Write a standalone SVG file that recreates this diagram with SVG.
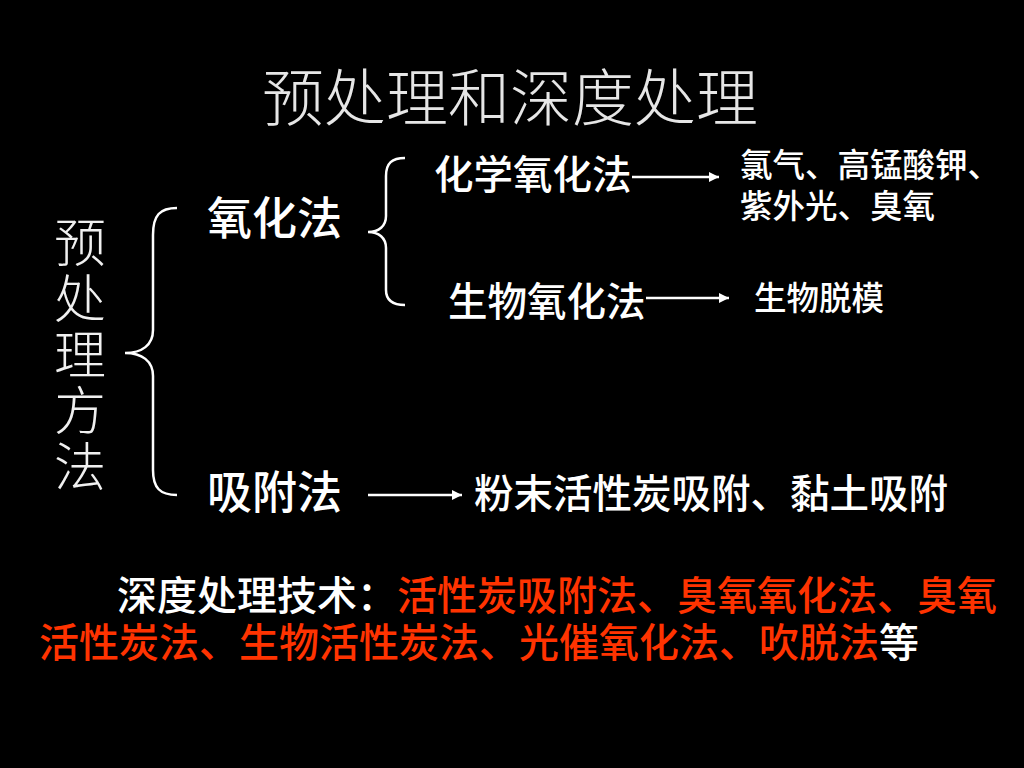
<svg xmlns="http://www.w3.org/2000/svg" width="1024" height="768" viewBox="0 0 1024 768">
<defs>
<style>
text{font-family:"Noto Sans CJK SC","Noto Sans CJK JP",sans-serif;fill:#ffffff}
.title{font-size:62px;font-weight:300;fill:#e6e6e6}
.vert{font-size:52px;font-weight:300;fill:#f0f0f0;writing-mode:vertical-rl;letter-spacing:4px}
.l1{font-size:45px;font-weight:500}
.l2{font-size:39.5px;font-weight:500}
.sm{font-family:"Liberation Sans","Noto Sans CJK SC","Noto Sans CJK JP",sans-serif;font-size:32.5px;font-weight:500}
.bt{font-family:"Liberation Sans","Noto Sans CJK SC","Noto Sans CJK JP",sans-serif;font-size:40px;font-weight:500}
.red{fill:#ff3300}
.brace{fill:none;stroke:#ffffff;stroke-width:2.5}
.conn{stroke:#ffffff;stroke-width:2.5;fill:none}
</style>
<marker id="ah" viewBox="0 0 10 10" refX="10" refY="5" markerWidth="4" markerHeight="4" markerUnits="strokeWidth" orient="auto">
<path d="M0,0 L10,5 L0,10 Z" fill="#ffffff"/>
</marker>
</defs>
<rect width="1024" height="768" fill="#000000"/>
<g id="title"><text class="title" x="262" y="121">预处理和深度处理</text></g>
<g id="root"><text class="vert" x="80" y="216">预处理方法</text></g>
<g id="braces">
<path class="brace" d="M177,208 C160,208 153,215 153,235 L153,330 C153,345 142,353 125,353 C142,353 153,361 153,376 L153,470 C153,488 160,495 177,495"/>
<path class="brace" d="M405,158 C392,158 386,163 386,176 L386,216 C386,226 379,232 368,232 C379,232 386,238 386,248 L386,290 C386,300 392,305 405,305"/>
</g>
<g id="oxidation"><text class="l1" x="207" y="235">氧化法</text></g>
<g id="adsorption"><text class="l1" x="207" y="509">吸附法</text></g>
<g id="chem-ox"><text class="l2" x="434" y="189">化学氧化法</text></g>
<g id="bio-ox"><text class="l2" x="448" y="316">生物氧化法</text></g>
<g id="chem-list">
<text class="sm"><tspan x="740" y="177">氯气、高锰酸钾、</tspan><tspan x="740" y="218">紫外光、臭氧</tspan></text>
</g>
<g id="bio-list"><text class="sm" x="754" y="310">生物脱模</text></g>
<g id="ads-list"><text class="l2" x="474" y="508">粉末活性炭吸附、黏土吸附</text></g>
<g id="connectors">
<line class="conn" x1="632" y1="177" x2="719" y2="177" marker-end="url(#ah)"/>
<line class="conn" x1="646" y1="298" x2="729" y2="298" marker-end="url(#ah)"/>
<line class="conn" x1="368" y1="495" x2="462" y2="495" marker-end="url(#ah)"/>
</g>
<g id="deep">
<text class="bt"><tspan x="117" y="610">深度处理技术：</tspan><tspan class="red">活性炭吸附法、臭氧氧化法、臭氧</tspan><tspan class="red" x="39" y="657">活性炭法、生物活性炭法、光催氧化法、吹脱法</tspan><tspan>等</tspan></text>
</g>
</svg>
